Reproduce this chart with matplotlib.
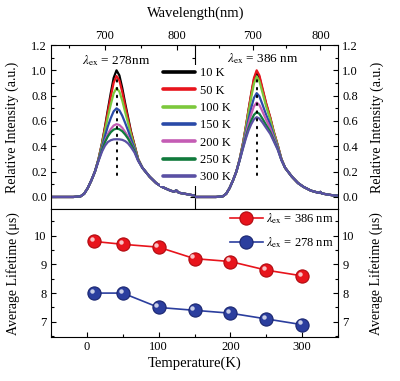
import matplotlib
matplotlib.use('Agg')
import matplotlib.pyplot as plt
from matplotlib.ticker import MultipleLocator, FormatStrFormatter
from matplotlib.transforms import offset_copy

plt.rcParams['font.family'] = ['Liberation Serif', 'DejaVu Serif']
plt.rcParams['mathtext.fontset'] = 'stix'

# ---------------- data ----------------
temp_labels = ['10 K', '50 K', '100 K', '150 K', '200 K', '250 K', '300 K']
colors = ['#000000', '#e8141c', '#7cc83c', '#2a4aa8', '#c45cb4', '#107a3c', '#5a50a4']

# left panel (lambda_ex = 278 nm)
wl_left_rise = [625, 656, 666, 671, 676, 681, 686]
int_left_rise = [0.0, 0.0, 0.005, 0.025, 0.07, 0.13, 0.20]
wl_left_peak = [691, 696, 700, 704, 708, 712, 716, 720, 724, 728, 732, 736, 741, 746]
int_left_peak = {
    '10 K':  [0.300, 0.430, 0.556, 0.690, 0.820, 0.940, 1.000, 0.960, 0.860, 0.740, 0.630, 0.520, 0.410, 0.300],
    '50 K':  [0.299, 0.426, 0.546, 0.672, 0.791, 0.901, 0.955, 0.919, 0.828, 0.718, 0.615, 0.512, 0.406, 0.299],
    '100 K': [0.297, 0.416, 0.523, 0.631, 0.730, 0.818, 0.860, 0.832, 0.760, 0.670, 0.584, 0.493, 0.398, 0.297],
    '150 K': [0.293, 0.397, 0.481, 0.559, 0.623, 0.676, 0.700, 0.684, 0.641, 0.585, 0.525, 0.459, 0.382, 0.293],
    '200 K': [0.290, 0.379, 0.445, 0.497, 0.536, 0.564, 0.575, 0.568, 0.546, 0.513, 0.476, 0.428, 0.367, 0.290],
    '250 K': [0.289, 0.374, 0.434, 0.479, 0.511, 0.532, 0.540, 0.535, 0.519, 0.493, 0.461, 0.419, 0.363, 0.289],
    '300 K': [0.285, 0.360, 0.405, 0.434, 0.448, 0.455, 0.456, 0.455, 0.451, 0.441, 0.423, 0.394, 0.351, 0.285],
}
wl_left_fall = [752, 762, 771, 779, 791, 796, 799, 802, 804, 816, 825]
int_left_fall = [0.23, 0.16, 0.11, 0.08, 0.05, 0.042, 0.052, 0.036, 0.032, 0.02, 0.01]

# right panel (lambda_ex = 386 nm)
wl_right_rise = [615, 646, 656, 661, 666, 671, 676]
int_right_rise = [0.0, 0.0, 0.005, 0.025, 0.07, 0.13, 0.20]
wl_right_peak = [681, 686, 690, 694, 698, 702, 706, 710, 714.5, 720, 726, 731, 737, 742.5]
int_right_peak = {
    '10 K':  [0.300, 0.429, 0.553, 0.684, 0.811, 0.927, 0.985, 0.946, 0.849, 0.733, 0.625, 0.517, 0.409, 0.300],
    '50 K':  [0.300, 0.430, 0.556, 0.690, 0.820, 0.940, 1.000, 0.960, 0.860, 0.740, 0.630, 0.520, 0.410, 0.300],
    '100 K': [0.299, 0.425, 0.545, 0.669, 0.788, 0.896, 0.950, 0.914, 0.825, 0.715, 0.614, 0.511, 0.406, 0.299],
    '150 K': [0.296, 0.411, 0.513, 0.614, 0.704, 0.783, 0.820, 0.795, 0.731, 0.649, 0.570, 0.485, 0.394, 0.296],
    '200 K': [0.294, 0.402, 0.494, 0.580, 0.654, 0.716, 0.745, 0.726, 0.676, 0.609, 0.543, 0.469, 0.387, 0.294],
    '250 K': [0.292, 0.393, 0.473, 0.544, 0.603, 0.649, 0.670, 0.657, 0.619, 0.568, 0.514, 0.452, 0.379, 0.292],
    '300 K': [0.291, 0.387, 0.461, 0.525, 0.575, 0.613, 0.630, 0.619, 0.589, 0.545, 0.498, 0.442, 0.374, 0.291],
}
wl_right_fall = [748, 758, 767, 775, 786, 798, 800, 802, 810, 820, 826]
int_right_fall = [0.23, 0.16, 0.11, 0.08, 0.05, 0.032, 0.04, 0.028, 0.02, 0.012, 0.01]

peak_wl_left = 716
peak_wl_right = 706
dot_span = [0.17, 0.97]

# lifetimes
temps = [10, 50, 100, 150, 200, 250, 300]
life_386 = [9.8, 9.7, 9.6, 9.2, 9.1, 8.8, 8.6]
life_278 = [8.0, 8.0, 7.5, 7.4, 7.3, 7.1, 6.9]

# ---------------- figure ----------------
W, H = 400, 381
fig = plt.figure(figsize=(W / 100, H / 100), dpi=100)


def frac(x0, y0, x1, y1):
    return [x0 / W, 1 - y1 / H, (x1 - x0) / W, (y1 - y0) / H]


axL = fig.add_axes(frac(51, 45, 195, 209))
axR = fig.add_axes(frac(195, 45, 338, 209))
axB = fig.add_axes(frac(51, 209, 338, 337))

tick_fs = 9
lw_sp = 0.8
for ax in (axL, axR, axB):
    for s in ax.spines.values():
        s.set_linewidth(lw_sp)

# left spectra
for lab, c in zip(temp_labels, colors):
    x = wl_left_rise + wl_left_peak + wl_left_fall
    y = int_left_rise + int_left_peak[lab] + int_left_fall
    axL.plot(x, y, color=c, lw=1.6, label=lab, solid_capstyle='round',
             solid_joinstyle='round')
axL.plot([peak_wl_left, peak_wl_left], dot_span, color='black', lw=1.4,
         linestyle=(0, (0.8, 3.2)), dash_capstyle='round')

# right spectra
for lab, c in zip(temp_labels, colors):
    x = wl_right_rise + wl_right_peak + wl_right_fall
    y = int_right_rise + int_right_peak[lab] + int_right_fall
    axR.plot(x, y, color=c, lw=1.6, solid_capstyle='round', solid_joinstyle='round')
axR.plot([peak_wl_right, peak_wl_right], dot_span, color='black', lw=1.4,
         linestyle=(0, (0.8, 3.2)), dash_capstyle='round')

ylim_top = (-0.095, 1.2)
axL.set_xlim(625, 825)
axR.set_xlim(615, 826)
for ax in (axL, axR):
    ax.set_ylim(*ylim_top)
    ax.xaxis.tick_top()
    ax.xaxis.set_major_locator(MultipleLocator(100))
    ax.xaxis.set_minor_locator(MultipleLocator(50))
    ax.yaxis.set_major_locator(MultipleLocator(0.2))
    ax.yaxis.set_minor_locator(MultipleLocator(0.1))
    ax.yaxis.set_major_formatter(FormatStrFormatter('%.1f'))
    ax.tick_params(axis='x', which='both', direction='in', top=True, bottom=False,
                   labeltop=True, labelbottom=False, labelsize=tick_fs, pad=2)
    ax.tick_params(which='major', length=3.5, width=0.8)
    ax.tick_params(which='minor', length=2, width=0.8)

axL.tick_params(axis='y', which='both', direction='in', left=True, right=True,
                labelleft=True, labelright=False, labelsize=tick_fs, pad=3)
axR.spines['left'].set_visible(False)
axR.patch.set_facecolor('none')
axR.tick_params(axis='y', which='both', direction='in', left=False, right=True,
                labelleft=False, labelright=True, labelsize=tick_fs, pad=3)

axL.text(715, 1.08, r'$\lambda_{\rm ex}$ = 278nm', ha='center', va='center', fontsize=9.5)
axR.text(715, 1.09, r'$\lambda_{\rm ex}$ = 386 nm', ha='center', va='center', fontsize=9.5)

leg = axL.legend(loc='upper left', bbox_to_anchor=(0.76, 0.88), borderaxespad=0,
                 fontsize=9, frameon=True, facecolor='white', edgecolor='none',
                 framealpha=1, fancybox=False, borderpad=0.2, handlelength=2.6,
                 handletextpad=0.4, labelspacing=0.43)
for l in leg.get_lines():
    l.set_linewidth(2.6)
leg.set_zorder(5)

# bottom panel
def glossy(ax, x, y, c, ec, label):
    ln, = ax.plot(x, y, '-o', color=c, lw=1.2, ms=9.5, mfc=c, mec=ec, mew=0.8,
                  label=label, zorder=3)
    tr = offset_copy(ax.transData, fig=fig, x=-1.6, y=1.6, units='points')
    ax.plot(x, y, 'o', ms=3.2, mfc='white', mec='none', alpha=0.75, transform=tr,
            zorder=4)
    return ln


glossy(axB, temps, life_386, '#e8141c', '#b00a10', r'$\lambda_{\rm ex}$ = 386 nm')
glossy(axB, temps, life_278, '#2b3e9e', '#1a2670', r'$\lambda_{\rm ex}$ = 278 nm')

axB.set_xlim(-50, 350)
axB.set_ylim(6.47, 10.93)
axB.xaxis.set_major_locator(MultipleLocator(100))
axB.xaxis.set_minor_locator(MultipleLocator(50))
axB.yaxis.set_major_locator(MultipleLocator(1))
axB.yaxis.set_minor_locator(MultipleLocator(0.5))
axB.tick_params(axis='x', which='both', direction='in', top=False, bottom=True,
                labelsize=tick_fs, pad=3)
axB.tick_params(axis='y', which='both', direction='in', left=True, right=True,
                labelleft=True, labelright=True, labelsize=tick_fs, pad=3)
axB.tick_params(which='major', length=3.5, width=0.8)
axB.tick_params(which='minor', length=2, width=0.8)

axB.legend(loc='upper left', bbox_to_anchor=(0.615, 1.0), borderaxespad=0,
           fontsize=9, frameon=False, borderpad=0.2, handlelength=2.6,
           handletextpad=0.3, labelspacing=0.75)

# labels
fig.text(196 / W, 1 - 13 / H, 'Wavelength(nm)', ha='center', va='center', fontsize=10.5)
fig.text(195 / W, 1 - 363 / H, 'Temperature(K)', ha='center', va='center', fontsize=10.5)
fig.text(12 / W, 1 - 127 / H, 'Relative Intensity (a.u.)', rotation=90,
         ha='center', va='center', fontsize=10)
fig.text(377 / W, 1 - 127 / H, 'Relative Intensity (a.u.)', rotation=90,
         ha='center', va='center', fontsize=10)
fig.text(13 / W, 1 - 274 / H, 'Average Lifetime (\u03bcs)', rotation=90,
         ha='center', va='center', fontsize=10)
fig.text(376 / W, 1 - 274 / H, 'Average Lifetime (\u03bcs)', rotation=90,
         ha='center', va='center', fontsize=10)

fig.savefig('out.png', dpi=100)
